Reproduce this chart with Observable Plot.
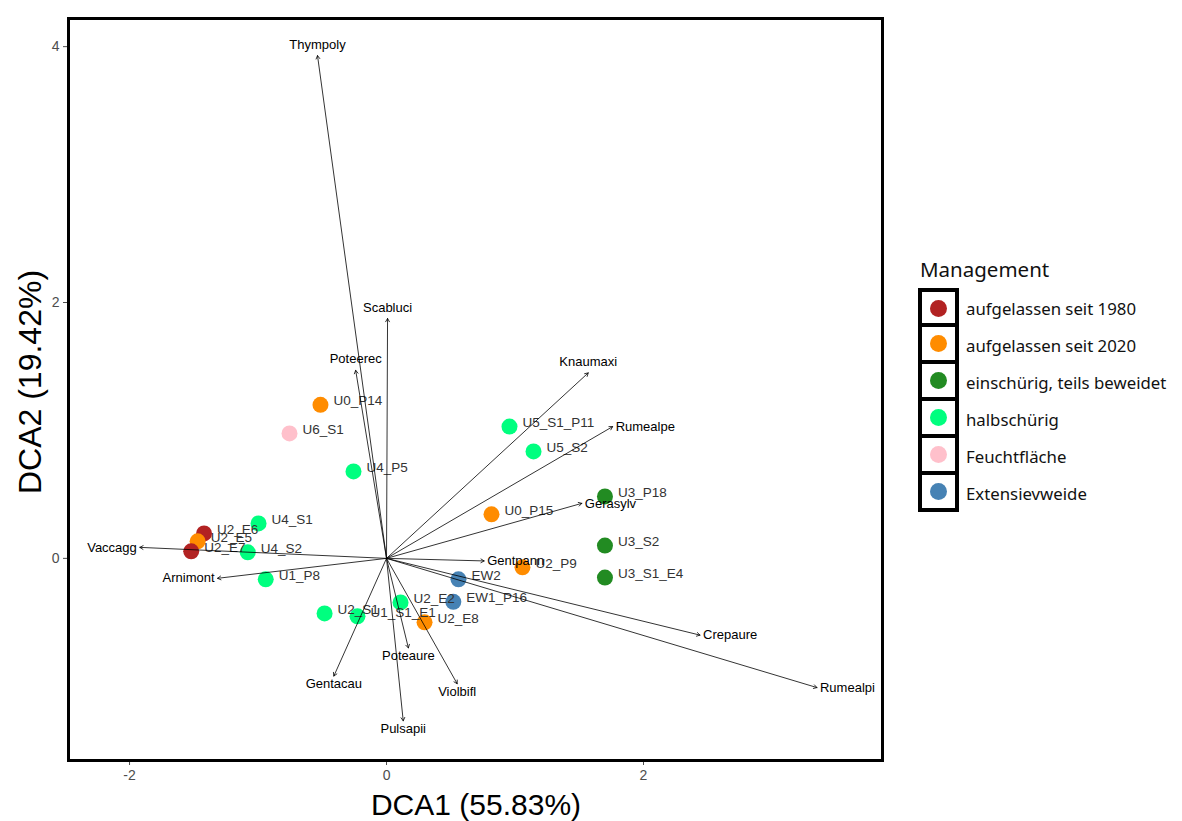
<!DOCTYPE html>
<html>
<head>
<meta charset="utf-8">
<script src="https://cdn.jsdelivr.net/npm/d3@7"></script>
<script src="https://cdn.jsdelivr.net/npm/@observablehq/plot@0.6"></script>
<style>
  body { margin: 0; background: #fff; }
  #wrap { position: relative; width: 1182px; height: 821px; overflow: hidden; }
  #chart { position: absolute; left: 0; top: 0; }
  .axtitle { position: absolute; font-family: "Liberation Sans", Arial, sans-serif; color: #000; white-space: nowrap; line-height: 1; }
  #xtitle { left: 476px; top: 790px; font-size: 30px; transform: translateX(-50%); }
  #ytitle { left: 30px; top: 382px; font-size: 32px; transform: translate(-50%, -50%) rotate(-90deg); }
  #legend { position: absolute; left: 918px; top: 255px; font-family: "Noto Sans", "Open Sans", sans-serif; color: #111; }
  #legend .title { font-size: 20.5px; height: 35px; line-height: 28px; margin-left: 2px; }
  #legend .row { display: flex; align-items: center; height: 37px; }
  #legend .key { box-sizing: border-box; width: 41px; height: 41px; border: 4px solid #000; display: flex; align-items: center; justify-content: center; background: #fff; margin-top: -4px; }
  #legend .dot { width: 17px; height: 17px; border-radius: 50%; }
  #legend .lab { font-size: 16.8px; margin-left: 7px; white-space: nowrap; }
</style>
</head>
<body>
<div id="wrap">
  <div id="chart"></div>
  <div class="axtitle" id="xtitle">DCA1 (55.83%)</div>
  <div class="axtitle" id="ytitle">DCA2 (19.42%)</div>
  <div id="legend"></div>
</div>
<script>
// Management groups and colours
const groups = ["aufgelassen seit 1980", "aufgelassen seit 2020", "einschürig, teils beweidet", "halbschürig", "Feuchtfläche", "Extensievweide"];
const groupColors = ["#B22222", "#FF8C00", "#228B22", "#00FF7F", "#FFC0CB", "#4682B4"];

// Sites (DCA scores)
const siteNames = ["U0_P14", "U6_S1", "U4_P5", "U5_S1_P11", "U5_S2", "U3_P18", "U0_P15", "U3_S2", "U3_S1_E4", "U2_P9", "EW2", "EW1_P16", "U2_E8", "U2_E2", "U1_S1_E1", "U2_S1", "U1_P8", "U4_S2", "U4_S1", "U2_E6", "U2_E5", "U2_E7"];
const siteX = [-0.514, -0.755, -0.257, 0.957, 1.144, 1.70, 0.817, 1.70, 1.70, 1.058, 0.56, 0.52, 0.296, 0.109, -0.226, -0.482, -0.94, -1.08, -0.996, -1.42, -1.47, -1.52];
const siteY = [1.20, 0.977, 0.68, 1.03, 0.836, 0.484, 0.344, 0.10, -0.15, -0.07, -0.164, -0.34, -0.50, -0.344, -0.453, -0.43, -0.164, 0.047, 0.273, 0.195, 0.133, 0.055];
const siteGroup = ["aufgelassen seit 2020", "Feuchtfläche", "halbschürig", "halbschürig", "halbschürig", "einschürig, teils beweidet", "aufgelassen seit 2020", "einschürig, teils beweidet", "einschürig, teils beweidet", "aufgelassen seit 2020", "Extensievweide", "Extensievweide", "aufgelassen seit 2020", "halbschürig", "halbschürig", "halbschürig", "halbschürig", "halbschürig", "halbschürig", "aufgelassen seit 1980", "aufgelassen seit 2020", "aufgelassen seit 1980"];

// Species vectors
const speciesNames = ["Thympoly", "Scabluci", "Poteerec", "Knaumaxi", "Rumealpe", "Gerasylv", "Gentpann", "Crepaure", "Rumealpi", "Violbifl", "Pulsapii", "Poteaure", "Gentacau", "Arnimont", "Vaccagg"];
const speciesX = [-0.537, 0.008, -0.24, 1.57, 1.76, 1.52, 0.76, 2.44, 3.35, 0.55, 0.13, 0.17, -0.41, -1.315, -1.92];
const speciesY = [3.93, 1.875, 1.47, 1.45, 1.03, 0.43, -0.02, -0.60, -1.01, -0.98, -1.27, -0.70, -0.92, -0.156, 0.086];

// Axis ticks
const xTicks = [-2, 0, 2];
const yTicks = [0, 2, 4];

const sites = siteNames.map((n, i) => ({name: n, x: siteX[i], y: siteY[i], group: siteGroup[i]}));
const species = speciesNames.map((n, i) => {
  const x = speciesX[i], y = speciesY[i];
  const ang = Math.atan2(Math.abs(y), Math.abs(x)) * 180 / Math.PI;
  let pos;
  if (ang > 38) pos = y > 0 ? "top" : "bottom";
  else pos = x > 0 ? "right" : "left";
  return {name: n, x, y, pos};
});

const fmt = d => String(d);

const chart = Plot.plot({
  width: 900,
  height: 821,
  marginLeft: 68,
  marginRight: 18,
  marginTop: 18,
  marginBottom: 61,
  style: {fontFamily: "'Liberation Sans', Arial, sans-serif", background: "#fff"},
  x: {domain: [-2.475, 3.86]},
  y: {domain: [-1.58, 4.22]},
  color: {domain: groups, range: groupColors},
  marks: [
    Plot.axisX({ticks: xTicks, tickFormat: fmt, tickSize: 5, tickPadding: 5, fontSize: 14, color: "#4d4d4d", label: null}),
    Plot.axisY({ticks: yTicks, tickFormat: fmt, tickSize: 5, tickPadding: 4, fontSize: 14, color: "#4d4d4d", label: null}),
    Plot.dot(sites, {x: "x", y: "y", fill: "group", r: 8}),
    Plot.text(sites, {x: "x", y: "y", text: "name", textAnchor: "start", dx: 13, dy: -4, fontSize: 13.5, fill: "#333"}),
    Plot.arrow(species, {x1: () => 0, y1: () => 0, x2: "x", y2: "y", stroke: "#000", strokeWidth: 0.8, headLength: 7, headAngle: 60}),
    Plot.text(species.filter(d => d.pos === "right"), {x: "x", y: "y", text: "name", textAnchor: "start", dx: 3, fontSize: 13, fill: "#000"}),
    Plot.text(species.filter(d => d.pos === "left"), {x: "x", y: "y", text: "name", textAnchor: "end", dx: -3, fontSize: 13, fill: "#000"}),
    Plot.text(species.filter(d => d.pos === "top"), {x: "x", y: "y", text: "name", textAnchor: "middle", dy: -11, fontSize: 13, fill: "#000"}),
    Plot.text(species.filter(d => d.pos === "bottom"), {x: "x", y: "y", text: "name", textAnchor: "middle", dy: 8, fontSize: 13, fill: "#000"}),
    Plot.frame({stroke: "#000", strokeWidth: 3})
  ]
});
document.getElementById("chart").appendChild(chart);

// Legend
const leg = document.getElementById("legend");
const t = document.createElement("div");
t.className = "title";
t.textContent = "Management";
leg.appendChild(t);
groups.forEach((g, i) => {
  const row = document.createElement("div");
  row.className = "row";
  const key = document.createElement("div");
  key.className = "key";
  if (i === 0) key.style.marginTop = "0px";
  const dot = document.createElement("div");
  dot.className = "dot";
  dot.style.background = groupColors[i];
  key.appendChild(dot);
  const lab = document.createElement("div");
  lab.className = "lab";
  lab.textContent = g;
  row.appendChild(key);
  row.appendChild(lab);
  leg.appendChild(row);
});
</script>
</body>
</html>
